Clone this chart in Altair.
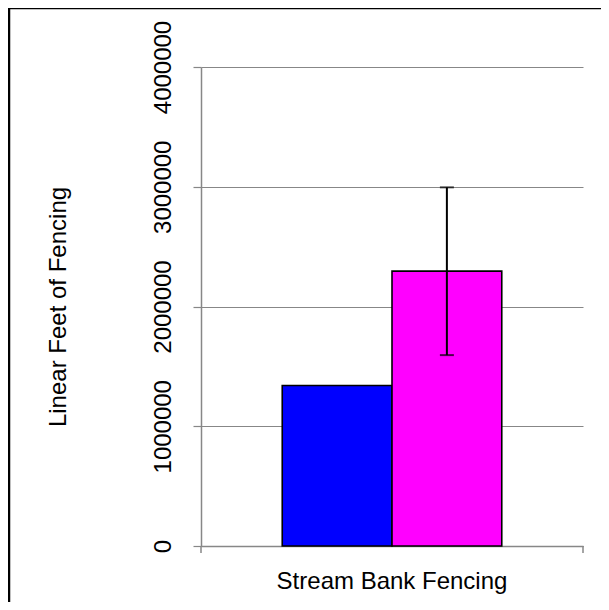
import altair as alt
import pandas as pd

# ---- data ----
categories = ["Stream Bank Fencing"]
series = ["Series 1", "Series 2"]
values = [1340000, 2295000]
err_low = [None, 1594000]
err_high = [None, 2995000]
colors = ["#0000FF", "#FF00FF"]
y_ticks = [0, 1000000, 2000000, 3000000, 4000000]

df = pd.DataFrame({
    "category": [categories[0]] * len(series),
    "series": series,
    "value": values,
    "lo": err_low,
    "hi": err_high,
})

W, H = 382, 479
PL, PT = 193, 59
FONT = "Liberation Sans"
FS = 24
GRAY = "#878787"

x_enc = alt.X(
    "category:N", title=None,
    scale=alt.Scale(paddingInner=0, paddingOuter=0.37),
    axis=alt.Axis(labelAngle=0, ticks=False, tickSize=0, domain=True,
                  domainColor=GRAY, domainWidth=1.5, labelFont=FONT,
                  labelFontSize=FS, labelColor="black", labelBaseline="alphabetic",
                  labelPadding=42, labelLimit=1000, grid=False),
)
xo_enc = alt.XOffset("series:N", sort=series,
                     scale=alt.Scale(paddingInner=0, paddingOuter=0))

y_axis = alt.Axis(values=y_ticks, format="d", grid=True, gridColor=GRAY,
                  gridWidth=1.2, domainColor=GRAY, domainWidth=1.5,
                  tickColor=GRAY, tickSize=8, tickWidth=1.2,
                  labelAngle=270, labelAlign="center", labelBaseline="alphabetic",
                  labelPadding=23, labelFont=FONT, labelFontSize=FS,
                  labelColor="black", labelLimit=1000, titleFont=FONT, titleFontSize=FS,
                  titleFontWeight="normal", titleColor="black", titleAngle=270,
                  titleAlign="center", titleBaseline="alphabetic",
                  titleX=-136, titleY=H / 2, titleLimit=1000)
y_scale = alt.Scale(domain=[0, 4000000], nice=False)
TITLE = "Linear Feet of Fencing"

bars = alt.Chart(df).mark_bar(stroke="black", strokeWidth=1.6).encode(
    x=x_enc, xOffset=xo_enc,
    y=alt.Y("value:Q", title=TITLE, scale=y_scale, axis=y_axis),
    color=alt.Color("series:N", scale=alt.Scale(domain=series, range=colors), legend=None),
)

err = alt.Chart(df).transform_filter("datum.lo != null")
rule = err.mark_rule(color="black", strokeWidth=2).encode(
    x=x_enc, xOffset=xo_enc,
    y=alt.Y("lo:Q", title=TITLE, scale=y_scale), y2="hi:Q")
cap_lo = err.mark_tick(color="black", thickness=2, size=14).encode(
    x=x_enc, xOffset=xo_enc, y=alt.Y("lo:Q", title=TITLE, scale=y_scale))
cap_hi = err.mark_tick(color="black", thickness=2, size=14).encode(
    x=x_enc, xOffset=xo_enc, y=alt.Y("hi:Q", title=TITLE, scale=y_scale))

one = pd.DataFrame({"a": [0]})
# small boundary ticks on the category axis (Excel style)
edge_l = alt.Chart(one).mark_rule(color=GRAY, strokeWidth=1.5).encode(
    x=alt.value(0), y=alt.value(H), y2=alt.value(H + 7))
edge_r = alt.Chart(one).mark_rule(color=GRAY, strokeWidth=1.5).encode(
    x=alt.value(W), y=alt.value(H), y2=alt.value(H + 7))
# chart-area frame
frame = alt.Chart(one).mark_rect(filled=False, stroke="black", strokeWidth=2.5, clip=False).encode(
    x=alt.value(-PL + 1), x2=alt.value(W + 100), y=alt.value(-PT + 0), y2=alt.value(H + 200))

chart = alt.layer(bars, rule, cap_lo, cap_hi, edge_l, edge_r, frame).properties(
    width=W, height=H,
    autosize=alt.AutoSizeParams(type="none"),
    padding={"left": PL, "top": PT, "right": 18, "bottom": 56},
    background="white",
).configure_view(stroke=None)

chart.save("out.html", embed_options={"renderer": "svg", "actions": False})
